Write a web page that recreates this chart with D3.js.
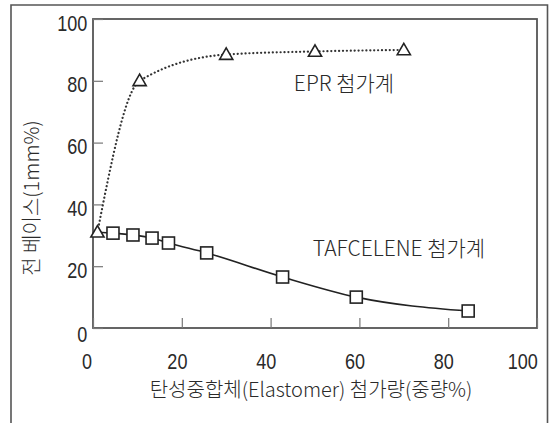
<!DOCTYPE html>
<html>
<head>
<meta charset="utf-8">
<script src="https://cdn.jsdelivr.net/npm/d3@7/dist/d3.min.js"></script>
<style>
  body { margin: 0; background: #fff; }
  svg text { font-family: "Liberation Sans", "Noto Sans CJK KR", sans-serif; fill: #2a2a2a; }
  svg text.kr { font-family: "Noto Sans CJK KR", sans-serif; font-weight: 300; }
</style>
</head>
<body>
<script>
// EPR 첨가계 (triangles, dotted)
const eprX = [1, 10.5, 30, 50, 70];
const eprY = [31, 80, 88.5, 89.5, 90];
// TAFCELENE 첨가계 (squares, solid) - line starts at the shared first point
const tafX = [1, 4.5, 9, 13.3, 17, 25.6, 42.7, 59.3, 84.5];
const tafY = [31, 30.7, 30.1, 29.1, 27.5, 24.3, 16.5, 10, 5.5];
const xTicks = [0, 20, 40, 60, 80, 100];
const yTicks = [0, 20, 40, 60, 80, 100];
const xTitle = '탄성중합체(Elastomer) 첨가량(중량%)';
const yTitle = '전 베이스(1mm%)';
const eprLabel = 'EPR 첨가계';
const tafLabel = 'TAFCELENE 첨가계';

const W = 552, H = 423;
const margin = {top: 19, right: 15, bottom: 95, left: 93};
const width = W - margin.left - margin.right,
  height = H - margin.top - margin.bottom;

const svg = d3.select('body').append('svg')
  .attr('width', W)
  .attr('height', H);

// outer frame (open at the bottom)
svg.append('path')
  .attr('d', 'M11,' + (H + 2) + 'V5H547.5V' + (H + 2))
  .attr('fill', 'none')
  .attr('stroke', '#555')
  .attr('stroke-width', 1.6);

const g = svg.append('g')
  .attr('transform', 'translate(' + margin.left + ',' + margin.top + ')');

const x = d3.scaleLinear().domain([0, 100]).range([0, width]);
const y = d3.scaleLinear().domain([0, 100]).range([height, 0]);

// plot box
g.append('rect')
  .attr('width', width).attr('height', height)
  .attr('fill', 'none').attr('stroke', '#555').attr('stroke-width', 1.8);

const xAxis = d3.axisBottom(x).tickValues(xTicks).tickSize(-10).tickPadding(25);
const yAxis = d3.axisLeft(y).tickValues(yTicks).tickSize(-10).tickPadding(7);

const gx = g.append('g').attr('transform', 'translate(0,' + height + ')').call(xAxis);
const gy = g.append('g').call(yAxis);
[gx, gy].forEach(function(a) {
  a.select('.domain').remove();
  a.selectAll('line').attr('stroke', '#777').attr('stroke-width', 1.2);
  a.selectAll('text').style('font-size', '22px').attr('fill', '#2a2a2a');
});
// narrow digits like the original
gx.selectAll('text')
  .attr('x', function(d) { return d === 0 ? -8 : d === 100 ? -18 : -6; })
  .attr('transform', 'scale(0.82,1)');
gy.selectAll('text')
  .attr('transform', 'scale(0.82,1)')
  .attr('dy', function(d) { return d === 0 ? '0.62em' : '0.5em'; });

// axis titles
svg.append('text').attr('class', 'kr')
  .attr('x', 311).attr('y', 397)
  .attr('text-anchor', 'middle')
  .style('font-size', '20px')
  .text(xTitle);

svg.append('text').attr('class', 'kr')
  .attr('transform', 'translate(39,198) rotate(-90)')
  .attr('text-anchor', 'middle')
  .style('font-size', '20px')
  .text(yTitle);

// lines
const eprData = eprX.map(function(v, i) { return [v, eprY[i]]; });
const tafData = tafX.map(function(v, i) { return [v, tafY[i]]; });

const line = d3.line()
  .x(function(d) { return x(d[0]); })
  .y(function(d) { return y(d[1]); })
  .curve(d3.curveMonotoneX);

g.append('path').datum(tafData)
  .attr('d', line)
  .attr('fill', 'none').attr('stroke', '#222').attr('stroke-width', 1.6);

g.append('path').datum(eprData)
  .attr('d', line)
  .attr('fill', 'none').attr('stroke', '#333').attr('stroke-width', 2.2)
  .attr('stroke-dasharray', '0.1,3.8').attr('stroke-linecap', 'round');

// square markers (skip the shared first point)
g.selectAll('rect.sq').data(tafData.slice(1)).enter().append('rect')
  .attr('class', 'sq')
  .attr('x', function(d) { return x(d[0]) - 6; })
  .attr('y', function(d) { return y(d[1]) - 6; })
  .attr('width', 12).attr('height', 12)
  .attr('fill', '#fff').attr('stroke', '#222').attr('stroke-width', 1.6);

// triangle markers
const tri = d3.symbol().type(d3.symbolTriangle).size(75);
g.selectAll('path.tri').data(eprData).enter().append('path')
  .attr('class', 'tri')
  .attr('transform', function(d) { return 'translate(' + x(d[0]) + ',' + (y(d[1]) + 1) + ')'; })
  .attr('d', tri)
  .attr('fill', '#fff').attr('stroke', '#222').attr('stroke-width', 1.6);

// series labels
svg.append('text').attr('class', 'kr')
  .attr('x', 344).attr('y', 91)
  .attr('text-anchor', 'middle')
  .style('font-size', '21px')
  .text(eprLabel);

svg.append('text').attr('class', 'kr')
  .attr('x', 399).attr('y', 256)
  .attr('text-anchor', 'middle')
  .style('font-size', '21px')
  .text(tafLabel);
</script>
</body>
</html>
